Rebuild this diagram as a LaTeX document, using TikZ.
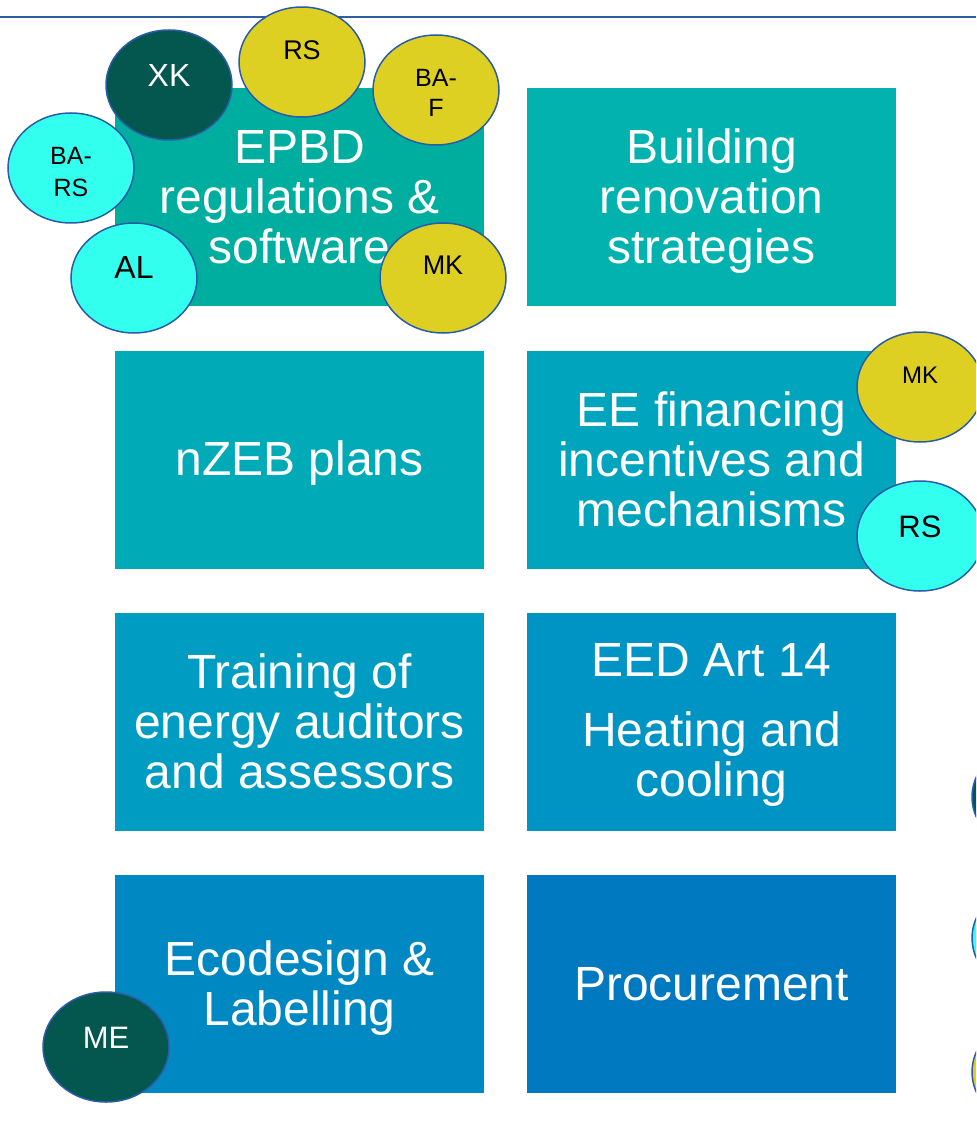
\documentclass[tikz,border=0pt]{standalone}
\usepackage{fontspec}
\setmainfont{Liberation Sans}
\usetikzlibrary{shapes.geometric}
\definecolor{c1}{HTML}{00AE9F}
\definecolor{c2}{HTML}{02B2AE}
\definecolor{c3}{HTML}{00ABB7}
\definecolor{c4}{HTML}{00A4BC}
\definecolor{c5}{HTML}{009CC1}
\definecolor{c6}{HTML}{0094C5}
\definecolor{c7}{HTML}{0088C2}
\definecolor{c8}{HTML}{0079C0}
\definecolor{ecyan}{HTML}{33FFEE}
\definecolor{eyellow}{HTML}{DDD022}
\definecolor{edark}{HTML}{03574E}
\definecolor{eborder}{HTML}{2A5CA8}
\definecolor{rule}{HTML}{2F5E9E}
\tikzset{
  topicbox/.style={rectangle, minimum width=369pt, minimum height=218pt, inner sep=0pt},
  topictext/.style={text=white, align=center, inner sep=0pt, font=\fontsize{48}{50}\selectfont},
  person/.style={ellipse, minimum width=126pt, minimum height=110pt, inner sep=0pt,
    draw=eborder, line width=1.5pt},
  dk/.style={person, fill=edark},
  cy/.style={person, fill=ecyan},
  yl/.style={person, fill=eyellow},
}
\begin{document}
\begin{tikzpicture}[x=1pt,y=-1pt]
\useasboundingbox (0,0) rectangle (976,1123);
\clip (0,0) rectangle (976,1123);
\coordinate (ruleL) at (0,17);
\coordinate (ruleR) at (976,17);
\draw[rule, line width=1.5pt] (ruleL) -- (ruleR);

\node[topicbox, fill=c1] (epbd) at (299.5,197) {};
\node[topicbox, fill=c2] (reno) at (711.5,197) {};
\node[topicbox, fill=c3] (nzeb) at (299.5,459.5) {};
\node[topicbox, fill=c4] (fin) at (711.5,459.5) {};
\node[topicbox, fill=c5] (train) at (299.5,721.5) {};
\node[topicbox, fill=c6] (eed) at (711.5,721.5) {};
\node[topicbox, fill=c7] (eco) at (299.5,984) {};
\node[topicbox, fill=c8] (proc) at (711.5,984) {};

\node[topictext] (epbdt) at (299.5,197) {EPBD\\regulations \&\\software};
\node[topictext] (renot) at (711.5,201) {Building\\renovation\\strategies};
\node[topictext] (nzebt) at (299.5,463) {nZEB plans};
\node[topictext] (fint) at (711.5,459.5) {EE financing\\incentives and\\mechanisms};
\node[topictext] (traint) at (299.5,721.5) {Training of\\energy auditors\\and assessors};
\node[topictext] (eedt) at (711.5,725) {EED Art 14\\[20pt]Heating and\\cooling};
\node[topictext] (ecot) at (299.5,988) {Ecodesign \&\\Labelling};
\node[topictext] (proct) at (711.5,984) {Procurement};

\node[dk] (xk) at (169,85) {};
\node[font=\fontsize{32}{34}\selectfont, text=white] (xkt) at (169,75) {XK};
\node[yl] (rs1) at (302,62) {};
\node[font=\fontsize{27}{30}\selectfont] (rs1t) at (302,50) {RS};
\node[yl] (baf) at (436,90) {};
\node[font=\fontsize{25}{30}\selectfont, align=center] (baft) at (436,93) {BA-\\F};
\node[cy] (bars) at (71,168) {};
\node[font=\fontsize{25}{32}\selectfont, align=center] (barst) at (71,172) {BA-\\RS};
\node[cy] (al) at (134,278) {};
\node[font=\fontsize{32}{34}\selectfont] (alt) at (134,267) {AL};
\node[yl] (mk1) at (443,278) {};
\node[font=\fontsize{27}{30}\selectfont] (mk1t) at (443,265) {MK};
\node[yl] (mk2) at (920,387) {};
\node[font=\fontsize{24}{28}\selectfont] (mk2t) at (920,375) {MK};
\node[cy] (rs2) at (920,536) {};
\node[font=\fontsize{31}{33}\selectfont] (rs2t) at (920,527) {RS};
\node[dk] (me) at (106,1047) {};
\node[font=\fontsize{31}{33}\selectfont, text=white] (met) at (106,1038) {ME};
\node[dk] (p1) at (1035,797) {};
\node[cy] (p2) at (1035,938) {};
\node[yl] (p3) at (1035,1072) {};
\end{tikzpicture}
\end{document}
